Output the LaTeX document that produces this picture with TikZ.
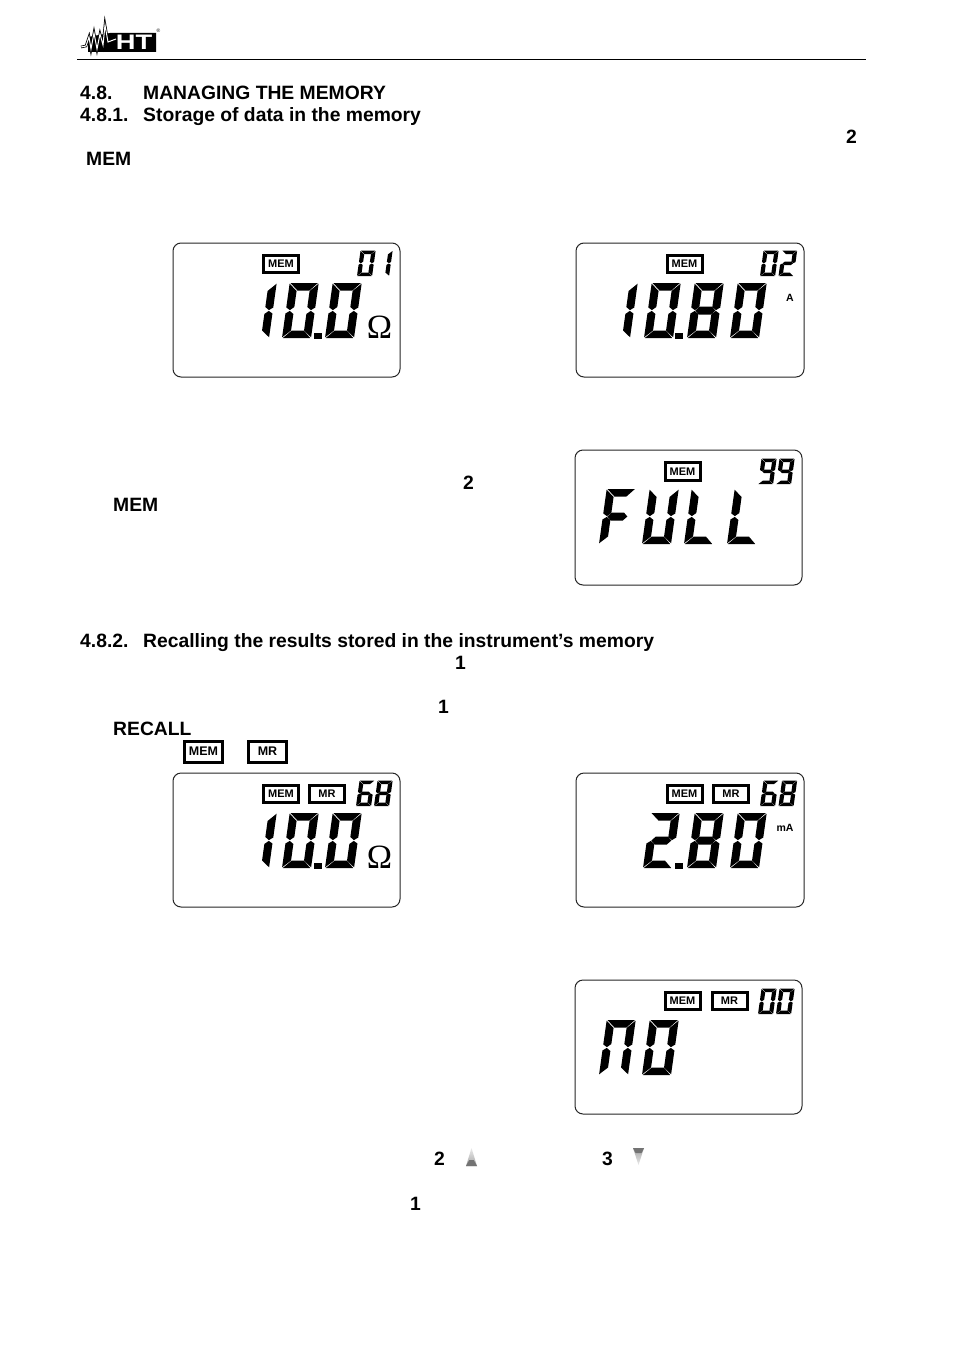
\documentclass[tikz,border=0pt]{standalone}
\usepackage{fontspec}
\setmainfont{Liberation Sans}
\newfontfamily\serifomega{Liberation Serif}

\tikzset{
	lcdbox/.style = {draw = black!85, line width = 1pt, rounded corners = 8pt},
	flagbox/.style = {draw = black, line width = 3pt, inner sep = 0pt, minimum width = 35pt, minimum height = 17.5pt, font = \bfseries\fontsize{11}{11}\selectfont},
	bigflag/.style = {flagbox, minimum width = 38pt, minimum height = 21pt, font = \bfseries\fontsize{12.5}{12.5}\selectfont},
	bodytext/.style = {anchor = base west, inner sep = 0pt, font = \bfseries\fontsize{19.3}{19.3}\selectfont},
	unittext/.style = {inner sep = 0pt, font = \bfseries\fontsize{10.5}{10.5}\selectfont},
	smalldigit/.style = {xscale = 0.52, yscale = 0.46},
	bigdigit/.style = {},
}

% segments of one display digit, seen from its lower left corner
\def\sega{(0.8,-55) -- (28.2,-55) -- (20.8,-47.5) -- (8.8,-47.5) -- cycle}
\def\segb{(29,-54.3) -- (21,-47) -- (21,-31) -- (25,-27.9) -- (29,-30.5) -- cycle}
\def\segc{(29,-0.7) -- (21,-7.5) -- (21,-24) -- (25,-27.1) -- (29,-24.5) -- cycle}
\def\segd{(0.8,0) -- (28.2,0) -- (20.8,-7.5) -- (8.8,-7.5) -- cycle}
\def\sege{(0,-0.7) -- (8,-7.5) -- (8,-24) -- (4,-27.1) -- (0,-24.5) -- cycle}
\def\segf{(0,-54.3) -- (8,-47) -- (8,-31) -- (4,-27.9) -- (0,-30.5) -- cycle}
\def\segg{(4.5,-27.5) -- (8.5,-31.5) -- (20.5,-31.5) -- (24.5,-27.5) -- (20.5,-23.5) -- (8.5,-23.5) -- cycle}

% #1 = lower left corner, #2 = scale style, #3 = segments
\newcommand{\lcddigit}[3]{
	\begin{scope}[shift = {#1}, xslant = 0.14, #2]
		\foreach \s in {#3} {
			\fill [black] \csname seg\s\endcsname;
		}
	\end{scope}
}
\def\logowave{(81,47) -- (86,46) -- (89,37) -- (91,49) -- (94,33) -- (97,49) -- (100,34) -- (103,45) -- (105,25) -- (108,42) -- (116,39)}

\begin{document}
\begin{tikzpicture}[x = 1pt, y = -1pt]
	\useasboundingbox [fill = white] (0,0) rectangle (954,1351);

	% header
	\draw [line width = 1pt] (77,59.5) -- (866,59.5);
	\fill [black] (88,52) -- (88,37) -- (110,33) -- (156,33) -- (156,52) -- cycle;
	\draw [black, line width = 2.6pt] \logowave;
	\draw [white, line width = 1pt] \logowave;
	\node (logoht) at (134,42.5) [inner sep = 0pt, text = white, font = \bfseries\fontsize{21}{21}\selectfont] {\scalebox{1.3}[1]{HT}};
	\node (logoreg) at (158.5,30.5) [inner sep = 0pt, font = \fontsize{5}{5}\selectfont] {®};

	% text lines
	\node (secnum) at (80,100) [bodytext] {4.8.};
	\node (sectitle) at (143,100) [bodytext] {MANAGING THE MEMORY};
	\node (subnuma) at (80,122) [bodytext] {4.8.1.};
	\node (subtitlea) at (143,122) [bodytext] {Storage of data in the memory};
	\node (keytwoa) at (846,144) [bodytext] {2};
	\node (memkeya) at (86,166) [bodytext] {MEM};
	\node (keytwob) at (463,489) [bodytext] {2};
	\node (memkeyb) at (113,511) [bodytext] {MEM};
	\node (subnumb) at (80,647) [bodytext] {4.8.2.};
	\node (subtitleb) at (143,647) [bodytext] {Recalling the results stored in the instrument’s memory};
	\node (keyonea) at (455,669) [bodytext] {1};
	\node (keyoneb) at (438,713) [bodytext] {1};
	\node (recallkey) at (113,735) [bodytext] {RECALL};
	\node (keytwoc) at (434,1165) [bodytext] {2};
	\node (keythree) at (602,1165) [bodytext] {3};
	\node (keyonec) at (410,1210) [bodytext] {1};

	\node (memflag) at (203.5,751.5) [bigflag] {MEM};
	\node (mrflag) at (267.5,751.5) [bigflag] {MR};

	% arrow keys
	\shade [top color = black!8, bottom color = black!35] (471.5,1148) -- (477,1166) -- (466,1166) -- cycle;
	\fill [black!55] (469.2,1160) -- (473.8,1160) -- (477,1166) -- (466,1166) -- cycle;
	\shade [top color = black!35, bottom color = black!8] (638.5,1165) -- (644,1148) -- (633,1148) -- cycle;
	\fill [black!55] (633,1148) -- (644,1148) -- (641.5,1153) -- (635.5,1153) -- cycle;

	% first display
	\draw [lcdbox] (173,243) rectangle (400,377);
	\node (flagamem) at (281,264) [flagbox] {MEM};
	\lcddigit{(357,276)}{smalldigit}{a,b,c,d,e,f}
	\lcddigit{(374,276)}{smalldigit}{b,c}
	\lcddigit{(240,338)}{bigdigit}{b,c}
	\lcddigit{(282,338)}{bigdigit}{a,b,c,d,e,f}
	\lcddigit{(325,338)}{bigdigit}{a,b,c,d,e,f}
	\fill (314,333) rectangle (322,339);
	\node (omegaa) at (379.5,327) [inner sep = 0pt, font = \serifomega\fontsize{34}{34}\selectfont] {Ω};

	% second display
	\draw [lcdbox] (576,243) rectangle (804,377);
	\node (flagbmem) at (684.5,264) [flagbox] {MEM};
	\lcddigit{(760,276)}{smalldigit}{a,b,c,d,e,f}
	\lcddigit{(778.5,276)}{smalldigit}{a,b,d,e,g}
	\lcddigit{(601,338)}{bigdigit}{b,c}
	\lcddigit{(644,338)}{bigdigit}{a,b,c,d,e,f}
	\lcddigit{(687,338)}{bigdigit}{a,b,c,d,e,f,g}
	\lcddigit{(730,338)}{bigdigit}{a,b,c,d,e,f}
	\fill (675,333) rectangle (683,339);
	\node (unitb) at (790,298) [unittext] {A};

	% third display
	\draw [lcdbox] (575,450) rectangle (802,585);
	\node (flagcmem) at (682.5,471.5) [flagbox] {MEM};
	\lcddigit{(758,484)}{smalldigit}{a,b,c,d,f,g}
	\lcddigit{(776,484)}{smalldigit}{a,b,c,d,f,g}
	\lcddigit{(599,544)}{bigdigit}{a,e,f,g}
	\lcddigit{(642,544)}{bigdigit}{b,c,d,e,f}
	\lcddigit{(684,544)}{bigdigit}{d,e,f}
	\lcddigit{(727,544)}{bigdigit}{d,e,f}

	% fourth display
	\draw [lcdbox] (173,773) rectangle (400,907);
	\node (flagdmem) at (281,794) [flagbox] {MEM};
	\node (flagdmr) at (327,794) [flagbox] {MR};
	\lcddigit{(356,806)}{smalldigit}{a,c,d,e,f,g}
	\lcddigit{(374,806)}{smalldigit}{a,b,c,d,e,f,g}
	\lcddigit{(240,868)}{bigdigit}{b,c}
	\lcddigit{(282,868)}{bigdigit}{a,b,c,d,e,f}
	\lcddigit{(325,868)}{bigdigit}{a,b,c,d,e,f}
	\fill (314,863) rectangle (322,869);
	\node (omegad) at (379.5,857) [inner sep = 0pt, font = \serifomega\fontsize{34}{34}\selectfont] {Ω};

	% fifth display
	\draw [lcdbox] (576,773) rectangle (804,907);
	\node (flagemem) at (684.5,794) [flagbox] {MEM};
	\node (flagemr) at (731,794) [flagbox] {MR};
	\lcddigit{(760,806)}{smalldigit}{a,c,d,e,f,g}
	\lcddigit{(778.5,806)}{smalldigit}{a,b,c,d,e,f,g}
	\lcddigit{(643,868)}{bigdigit}{a,b,d,e,g}
	\lcddigit{(687,868)}{bigdigit}{a,b,c,d,e,f,g}
	\lcddigit{(730,868)}{bigdigit}{a,b,c,d,e,f}
	\fill (675,863) rectangle (683,869);
	\node (unite) at (785,828) [unittext] {mA};

	% sixth display
	\draw [lcdbox] (575,980) rectangle (802,1114);
	\node (flagfmem) at (682.5,1001) [flagbox] {MEM};
	\node (flagfmr) at (729.5,1001) [flagbox] {MR};
	\lcddigit{(758,1014)}{smalldigit}{a,b,c,d,e,f}
	\lcddigit{(776,1014)}{smalldigit}{a,b,c,d,e,f}
	\lcddigit{(599,1075)}{bigdigit}{a,b,c,e,f}
	\lcddigit{(642,1075)}{bigdigit}{a,b,c,d,e,f}
\end{tikzpicture}
\end{document}
